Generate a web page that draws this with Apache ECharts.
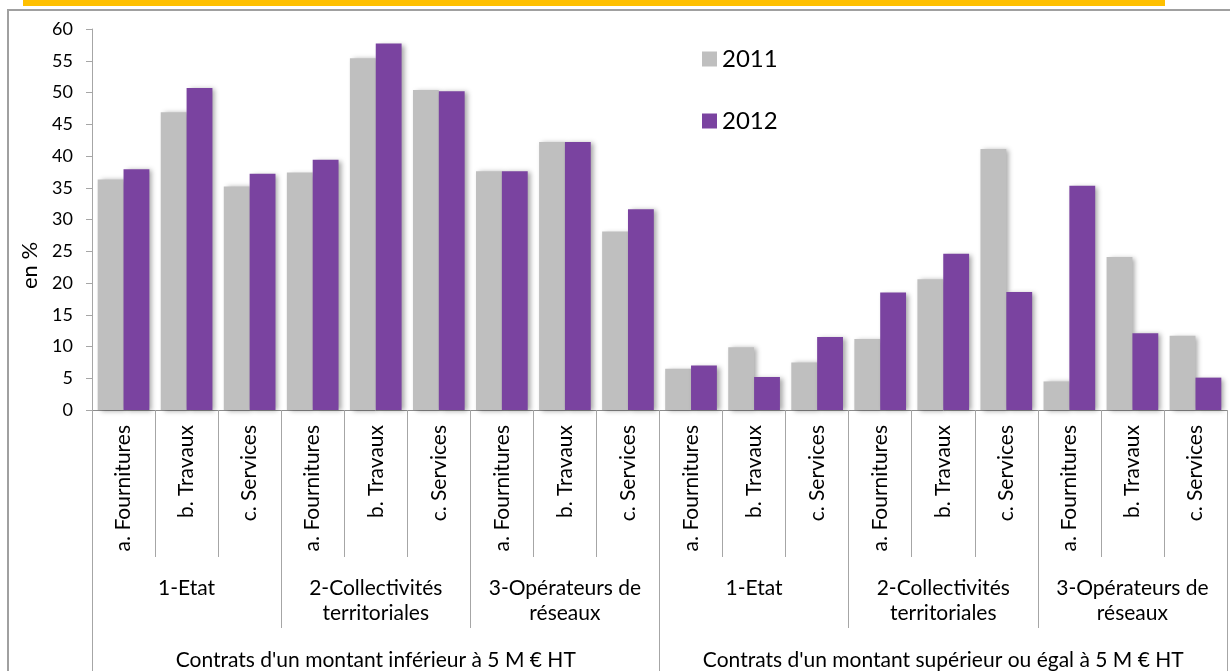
<!DOCTYPE html>
<html>
<head>
<meta charset="utf-8">
<script src="https://cdn.jsdelivr.net/npm/echarts@6/dist/echarts.min.js"></script>
<style>
html,body{margin:0;padding:0;background:#fff;}
#c{width:1230px;height:671px;}
</style>
</head>
<body>
<div id="c"></div>
<script>
const subCategories = ['a. Fournitures','b. Travaux','c. Services','a. Fournitures','b. Travaux','c. Services','a. Fournitures','b. Travaux','c. Services','a. Fournitures','b. Travaux','c. Services','a. Fournitures','b. Travaux','c. Services','a. Fournitures','b. Travaux','c. Services'];
const groupCategories = ['1-Etat','2-Collectivités\nterritoriales','3-Opérateurs de\nréseaux','1-Etat','2-Collectivités\nterritoriales','3-Opérateurs de\nréseaux'];
const topCategories = ["Contrats d'un montant inférieur à 5 M € HT","Contrats d'un montant supérieur ou égal à 5 M € HT"];
const seriesNames = ['2011','2012'];
const values2011 = [36.3,46.9,35.2,37.4,55.4,50.4,37.6,42.2,28.1,6.5,9.9,7.5,11.2,20.6,41.1,4.5,24.1,11.7];
const values2012 = [37.9,50.7,37.2,39.4,57.7,50.2,37.6,42.2,31.6,7.0,5.2,11.5,18.5,24.6,18.6,35.3,12.1,5.1];
const yTicks = {min:0,max:60,interval:5};

const FONT = 'Lato';
const sepColor = '#A6A6A6';
const chart = echarts.init(document.getElementById('c'), null, {renderer:'canvas'});
const barShadow = {shadowColor:'rgba(0,0,0,0.35)',shadowBlur:5,shadowOffsetX:3,shadowOffsetY:1};
chart.setOption({
  animation:false,
  textStyle:{fontFamily:FONT,color:'#000'},
  graphic:[
    {type:'rect',shape:{x:8,y:10,width:1260,height:720},style:{fill:'none',stroke:'#A0A0A0',lineWidth:2},silent:true,z:-1},
    {type:'rect',shape:{x:23,y:0,width:1142,height:6},style:{fill:'#FFC000'},silent:true,z:-1}
  ],
  legend:{
    orient:'vertical',left:697,top:42,itemWidth:15,itemHeight:15,itemGap:38,icon:'rect',
    textStyle:{fontFamily:FONT,fontSize:24,color:'#000'},
    data:seriesNames
  },
  grid:{left:92,right:3,top:29,bottom:261,containLabel:false},
  yAxis:{
    type:'value',min:yTicks.min,max:yTicks.max,interval:yTicks.interval,
    name:'en %',nameLocation:'middle',nameRotate:90,nameGap:47,
    nameTextStyle:{fontFamily:FONT,fontSize:22,color:'#000',padding:[0,92,0,0]},
    axisLine:{show:true,lineStyle:{color:sepColor,width:1}},
    axisTick:{show:true,length:6,lineStyle:{color:sepColor}},
    axisLabel:{margin:19,fontSize:18,color:'#000',fontFamily:FONT},
    splitLine:{show:false}
  },
  xAxis:[
    {type:'category',position:'bottom',data:subCategories,
     axisLine:{show:true,lineStyle:{color:'#8C8C8C',width:1}},
     axisTick:{show:true,interval:0,length:147,lineStyle:{color:sepColor}},
     axisLabel:{interval:0,rotate:90,margin:15,fontSize:21,color:'#000',fontFamily:FONT}},
    {type:'category',position:'bottom',data:groupCategories,
     axisLine:{show:false},
     axisTick:{show:true,interval:0,length:218,lineStyle:{color:sepColor}},
     axisLabel:{interval:0,margin:166,fontSize:21,lineHeight:25,color:'#000',fontFamily:FONT}},
    {type:'category',position:'bottom',data:topCategories,
     axisLine:{show:false},
     axisTick:{show:true,interval:0,length:300,lineStyle:{color:sepColor}},
     axisLabel:{interval:0,margin:240,fontSize:21,color:'#000',fontFamily:FONT}}
  ],
  series:[
    {name:seriesNames[0],type:'bar',xAxisIndex:0,data:values2011,barGap:'0%',barCategoryGap:'18%',
     itemStyle:Object.assign({color:'#BFBFBF'},barShadow)},
    {name:seriesNames[1],type:'bar',xAxisIndex:0,data:values2012,barGap:'0%',barCategoryGap:'18%',
     itemStyle:Object.assign({color:'#7A43A0'},barShadow)}
  ]
});
</script>
</body>
</html>
